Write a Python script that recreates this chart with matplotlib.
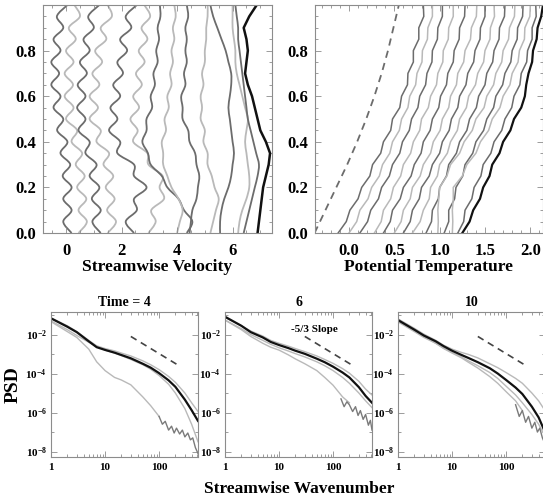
import numpy as np
import matplotlib
matplotlib.use("Agg")
import matplotlib.pyplot as plt
from matplotlib.path import Path
from matplotlib.patches import PathPatch
from matplotlib.ticker import MultipleLocator, FixedLocator, NullFormatter

plt.rcParams['font.family'] = ['Liberation Serif', 'DejaVu Serif']
plt.rcParams['font.weight'] = 'bold'
plt.rcParams['mathtext.fontset'] = 'custom'
plt.rcParams['mathtext.rm'] = 'Liberation Serif:bold'
plt.rcParams['mathtext.it'] = 'Liberation Serif:bold'
plt.rcParams['mathtext.bf'] = 'Liberation Serif:bold'
plt.rcParams['mathtext.default'] = 'rm'

# ---------------- Top-left: streamwise velocity profiles ----------------
height_levels = [0.00, 0.05, 0.10, 0.15, 0.20, 0.25, 0.30, 0.35, 0.40, 0.45, 0.50,
                 0.55, 0.60, 0.65, 0.70, 0.75, 0.80, 0.85, 0.90, 0.95, 1.00]
u_c0 = [0.20, -0.10, 0.20, -0.10, 0.20, -0.12, 0.15, -0.20, 0.05, -0.32, -0.10,
        -0.45, -0.20, -0.53, -0.25, -0.53, -0.20, -0.45, -0.10, -0.33, 0.05]
u_c1 = [0.45, 0.75, 0.45, 0.73, 0.40, 0.67, 0.35, 0.58, 0.20, 0.40, 0.00,
        0.27, -0.05, 0.25, -0.05, 0.27, 0.00, 0.35, 0.10, 0.50, 0.30]
u_c2 = [1.25, 0.95, 1.25, 0.93, 1.20, 0.85, 1.10, 0.70, 0.85, 0.45, 0.70,
        0.40, 0.70, 0.42, 0.75, 0.50, 0.85, 0.63, 1.00, 0.80, 1.20]
u_c3 = [1.50, 1.80, 1.48, 1.75, 1.43, 1.70, 1.35, 1.55, 1.10, 1.25, 0.85,
        1.15, 0.85, 1.20, 0.95, 1.30, 1.05, 1.45, 1.25, 1.65, 1.50]
u_c4 = [2.45, 2.15, 2.55, 2.45, 2.90, 2.45, 2.45, 1.85, 1.95, 1.55, 1.85,
        1.60, 1.95, 1.70, 2.05, 1.85, 2.20, 1.95, 2.35, 2.15, 2.55]
u_c5 = [2.97, 3.23, 3.07, 3.53, 3.37, 3.48, 2.97, 2.93, 2.42, 2.58, 2.32,
        2.63, 2.42, 2.73, 2.52, 2.83, 2.62, 2.93, 2.72, 3.03, 2.82]
u_c6 = [4.35, 4.55, 4.25, 4.05, 3.65, 3.45, 3.05, 2.95, 2.75, 2.90, 2.90,
        3.10, 3.05, 3.20, 3.15, 3.30, 3.25, 3.35, 3.30, 3.40, 3.38]
u_c7 = [4.00, 4.10, 4.20, 4.05, 3.80, 3.65, 3.50, 3.50, 3.45, 3.60, 3.55,
        3.70, 3.65, 3.80, 3.75, 3.85, 3.80, 3.90, 3.85, 3.95, 3.90]
u_c8 = [4.45, 4.50, 4.55, 4.70, 4.75, 4.80, 4.70, 4.65, 4.45, 4.40, 4.20,
        4.20, 4.15, 4.30, 4.25, 4.35, 4.30, 4.35, 4.30, 4.40, 4.35]
u_c9 = [5.20, 5.30, 5.40, 5.50, 5.35, 5.25, 5.10, 5.10, 4.95, 5.00, 4.85,
        4.90, 4.85, 4.95, 4.90, 5.00, 5.00, 5.05, 5.05, 5.10, 5.10]
u_c10 = [5.55, 5.55, 5.60, 5.70, 5.85, 5.95, 6.00, 6.05, 6.00, 5.95, 5.90,
         5.85, 5.90, 5.95, 5.95, 5.85, 5.75, 5.60, 5.45, 5.30, 5.20]
u_c11 = [6.20, 6.25, 6.35, 6.50, 6.60, 6.60, 6.55, 6.50, 6.45, 6.50, 6.55,
         6.45, 6.35, 6.25, 6.15, 6.10, 6.10, 6.05, 6.00, 6.00, 6.00]
u_c12 = [6.40, 6.50, 6.60, 6.70, 6.80, 6.90, 6.95, 6.85, 6.75, 6.65, 6.55,
         6.50, 6.45, 6.40, 6.35, 6.30, 6.25, 6.20, 6.20, 6.15, 6.10]
u_final = [6.90, 6.95, 7.00, 7.05, 7.10, 7.20, 7.30, 7.35, 7.20, 7.00, 6.90,
           6.80, 6.70, 6.55, 6.45, 6.50, 6.55, 6.50, 6.40, 6.60, 6.87]

# ---------------- Top-right: potential temperature profiles ----------------
theta_levels_coarse = [0.0, 0.1, 0.2, 0.3, 0.4, 0.5, 0.6, 0.7, 0.8, 0.9, 1.0]
theta_initial = [-0.38, -0.26, -0.14, -0.02, 0.09, 0.19, 0.28, 0.36, 0.43, 0.49, 0.55]
theta_levels = height_levels
th_c0 = [-0.12, -0.03, 0.01, 0.10, 0.14, 0.23, 0.26, 0.35, 0.38, 0.46, 0.48,
         0.56, 0.58, 0.645, 0.65, 0.71, 0.71, 0.77, 0.77, 0.825, 0.82]
th_c1 = [0.00, 0.085, 0.12, 0.21, 0.25, 0.335, 0.37, 0.45, 0.48, 0.555, 0.58,
         0.65, 0.67, 0.735, 0.75, 0.805, 0.81, 0.865, 0.87, 0.92, 0.92]
th_c2 = [0.12, 0.205, 0.24, 0.325, 0.36, 0.445, 0.48, 0.56, 0.59, 0.665, 0.69,
         0.76, 0.78, 0.845, 0.86, 0.915, 0.92, 0.975, 0.98, 1.03, 1.03]
th_c3 = [0.28, 0.355, 0.38, 0.46, 0.49, 0.57, 0.60, 0.68, 0.71, 0.78, 0.80,
         0.875, 0.90, 0.965, 0.98, 1.035, 1.04, 1.095, 1.10, 1.15, 1.15]
th_c4 = [0.38, 0.455, 0.48, 0.565, 0.60, 0.685, 0.72, 0.795, 0.82, 0.895, 0.92,
         0.99, 1.01, 1.075, 1.09, 1.15, 1.16, 1.215, 1.22, 1.275, 1.28]
th_c5 = [0.50, 0.575, 0.60, 0.675, 0.70, 0.785, 0.82, 0.90, 0.93, 1.005, 1.03,
         1.10, 1.12, 1.185, 1.20, 1.265, 1.28, 1.34, 1.35, 1.405, 1.41]
th_c6 = [0.60, 0.675, 0.70, 0.775, 0.80, 0.885, 0.92, 1.00, 1.03, 1.105, 1.13,
         1.20, 1.22, 1.29, 1.31, 1.375, 1.39, 1.445, 1.45, 1.50, 1.50]
th_c7 = [0.70, 0.785, 0.82, 0.885, 0.90, 0.975, 1.00, 1.085, 1.12, 1.195, 1.22,
         1.295, 1.32, 1.395, 1.42, 1.485, 1.50, 1.555, 1.56, 1.605, 1.60]
th_c8 = [0.85, 0.91, 0.92, 0.985, 1.00, 1.075, 1.10, 1.185, 1.22, 1.30, 1.33,
         1.405, 1.43, 1.50, 1.52, 1.585, 1.60, 1.655, 1.66, 1.715, 1.72]
th_c9 = [0.98, 0.985, 0.98, 0.99, 1.00, 1.08, 1.12, 1.22, 1.27, 1.36, 1.40,
         1.49, 1.52, 1.595, 1.62, 1.685, 1.70, 1.76, 1.77, 1.825, 1.83]
th_c10 = [1.05, 1.10, 1.10, 1.165, 1.18, 1.255, 1.28, 1.365, 1.40, 1.485, 1.52,
          1.595, 1.62, 1.695, 1.72, 1.785, 1.80, 1.855, 1.86, 1.915, 1.92]
th_c11 = [1.14, 1.145, 1.14, 1.15, 1.15, 1.25, 1.30, 1.40, 1.45, 1.54, 1.58,
          1.665, 1.70, 1.775, 1.80, 1.865, 1.88, 1.935, 1.94, 1.995, 2.00]
th_c12 = [1.20, 1.265, 1.28, 1.355, 1.38, 1.455, 1.48, 1.565, 1.60, 1.685, 1.72,
          1.795, 1.82, 1.885, 1.90, 1.96, 1.97, 2.02, 2.02, 2.065, 2.06]
th_final = [1.25, 1.33, 1.37, 1.445, 1.48, 1.55, 1.58, 1.66, 1.70, 1.78, 1.82,
            1.90, 1.94, 1.955, 1.98, 2.02, 2.03, 2.07, 2.08, 2.12, 2.14]

# ---------------- Bottom: spectra (log10 PSD) ----------------
wavenumber = [1, 2, 3, 5, 7, 10, 15, 20, 30, 50, 70, 100, 150, 200, 300, 400, 525]
t4_mean = [-1.17, -1.60, -1.88, -2.35, -2.65, -2.79, -2.93, -3.05, -3.22, -3.50, -3.70,
           -3.98, -4.35, -4.68, -5.34, -5.88, -6.43]
t4_a = [-1.15, -1.55, -1.85, -2.30, -2.58, -2.72, -2.84, -2.95, -3.10, -3.35, -3.55,
        -3.80, -4.15, -4.45, -5.00, -5.50, -5.95]
t4_b = [-1.30, -1.75, -2.05, -2.40, -2.60, -2.80, -2.95, -3.08, -3.28, -3.55, -3.78,
        -4.10, -4.55, -5.00, -5.80, -6.60, -7.50]
t4_c_k = [1, 2, 3, 5, 7, 10, 15, 20, 30, 50, 70, 100]
t4_c = [-1.34, -1.85, -2.15, -2.75, -3.40, -3.85, -4.20, -4.33, -4.58, -5.20, -5.65, -6.20]
t4_noise_k = [100, 115, 130, 150, 170, 190, 210, 240, 270, 300, 340, 380, 420, 470, 525]
t4_noise = [-6.20, -6.60, -6.45, -6.90, -6.70, -7.05, -6.80, -7.10, -6.90, -7.25, -7.05,
            -7.40, -7.30, -7.80, -8.10]

t6_mean = [-1.09, -1.55, -1.88, -2.15, -2.38, -2.54, -2.70, -2.83, -2.99, -3.24, -3.42,
           -3.65, -3.95, -4.20, -4.70, -5.15, -5.50]
t6_a = [-1.12, -1.55, -1.82, -2.08, -2.30, -2.45, -2.60, -2.72, -2.88, -3.10, -3.28,
        -3.48, -3.75, -3.98, -4.40, -4.80, -5.10]
t6_b = [-1.26, -1.70, -2.00, -2.30, -2.50, -2.68, -2.85, -2.98, -3.15, -3.40, -3.60,
        -3.85, -4.20, -4.50, -5.00, -5.40, -5.75]
t6_c_k = [1, 2, 3, 5, 7, 10, 15, 20, 30, 50, 70, 100, 150, 200]
t6_c = [-1.26, -1.75, -2.10, -2.45, -2.65, -2.80, -3.05, -3.25, -3.50, -3.85, -4.20,
        -4.60, -5.20, -5.50]
t6_noise_k = [140, 160, 180, 200, 230, 260, 290, 320, 360, 400, 450, 490, 525]
t6_noise = [-5.30, -5.70, -5.45, -5.60, -5.95, -5.70, -6.15, -5.90, -6.35, -6.10, -6.65,
            -6.40, -6.90]

t10_mean = [-1.26, -1.75, -2.05, -2.35, -2.60, -2.83, -3.05, -3.20, -3.42, -3.73, -4.00,
            -4.33, -4.72, -5.05, -5.70, -6.25, -7.00]
t10_a = [-1.20, -1.68, -1.98, -2.30, -2.55, -2.75, -2.92, -3.02, -3.20, -3.50, -3.70,
         -3.95, -4.25, -4.50, -5.00, -5.40, -5.90]
t10_b = [-1.35, -1.85, -2.15, -2.45, -2.70, -2.92, -3.15, -3.35, -3.60, -3.95, -4.25,
         -4.65, -5.10, -5.50, -6.10, -6.60, -7.20]
t10_c_k = [1, 2, 3, 5, 7, 10, 15, 20, 30, 50, 70, 100, 150, 200]
t10_c = [-1.30, -1.80, -2.10, -2.45, -2.72, -2.95, -3.20, -3.42, -3.72, -4.16, -4.50,
         -4.93, -5.40, -5.90]
t10_noise_k = [150, 175, 200, 230, 260, 300, 340, 380, 420, 470, 525]
t10_noise = [-5.60, -6.20, -5.90, -6.50, -6.20, -6.80, -6.50, -7.00, -6.80, -7.30, -7.60]

slope_k = [30, 210]
slope_log = [-2.10, -3.52]

panel_titles = ["Time = 4", "6", "10"]

# ---------------- Figure ----------------
DARK = '#6c6c6c'
LIGHT = '#b9b9b9'
FRAME = '#8c8c8c'

fig = plt.figure(figsize=(5.43, 5.01), dpi=100)
W, H = 543.0, 501.0


def ax_px(l, r, t, b):
    return fig.add_axes([l / W, (H - b) / H, (r - l) / W, (b - t) / H])


def style(ax, fs=10, xpad=3.5, ypad=3.5):
    for s in ax.spines.values():
        s.set_color(FRAME)
        s.set_linewidth(0.8)
    ax.tick_params(which='both', direction='in', top=True, right=True,
                   color=FRAME, labelsize=fs, width=0.6)
    ax.tick_params(axis='x', which='both', pad=xpad)
    ax.tick_params(axis='y', which='both', pad=ypad)
    ax.tick_params(which='major', length=4)
    ax.tick_params(which='minor', length=2)
    for lab in ax.get_xticklabels() + ax.get_yticklabels():
        lab.set_fontweight('bold')


def smooth_path(xs, ys):
    """Smooth drawing path through the read points (Catmull-Rom as Bezier)."""
    pts = np.column_stack([xs, ys]).astype(float)
    n = len(pts)
    verts = [pts[0]]
    codes = [Path.MOVETO]
    for i in range(n - 1):
        p0 = pts[max(i - 1, 0)]
        p1 = pts[i]
        p2 = pts[i + 1]
        p3 = pts[min(i + 2, n - 1)]
        verts += [p1 + (p2 - p0) / 6.0, p2 - (p3 - p1) / 6.0, p2]
        codes += [Path.CURVE4] * 3
    return Path(verts, codes)


# Top-left
ax1 = ax_px(43, 272, 5, 233)
u_curves = [u_c0, u_c1, u_c2, u_c3, u_c4, u_c5, u_c6, u_c7, u_c8, u_c9, u_c10, u_c11, u_c12]
for i, u in enumerate(u_curves):
    col = DARK if i % 2 == 0 else LIGHT
    ax1.add_patch(PathPatch(smooth_path(u, height_levels), fill=False,
                            edgecolor=col, lw=1.3))
ax1.plot(u_final, height_levels, color='#111111', lw=1.8)
ax1.set_xlim(-0.83, 7.42)
ax1.set_ylim(0, 1.0)
ax1.xaxis.set_major_locator(FixedLocator([0, 2, 4, 6]))
ax1.xaxis.set_minor_locator(MultipleLocator(0.5))
ax1.yaxis.set_major_locator(FixedLocator([0.0, 0.2, 0.4, 0.6, 0.8]))
ax1.yaxis.set_minor_locator(MultipleLocator(0.05))
ax1.set_yticklabels(['0.0', '0.2', '0.4', '0.6', '0.8'])
ax1.set_xticklabels(['0', '2', '4', '6'])
style(ax1, 12, xpad=7, ypad=5)
ax1.set_xlabel('Streamwise Velocity', fontsize=12.6, fontweight='bold', labelpad=0)

# Top-right
ax2 = ax_px(315, 543, 5, 233)
ax2.plot(theta_initial, theta_levels_coarse, color=DARK, lw=1.3, ls=(0, (4, 3)))
th_curves = [th_c0, th_c1, th_c2, th_c3, th_c4, th_c5, th_c6, th_c7, th_c8, th_c9,
             th_c10, th_c11, th_c12]
for i, th in enumerate(th_curves):
    col = DARK if i % 2 == 0 else LIGHT
    ax2.plot(th, theta_levels, color=col, lw=1.1)
ax2.plot(th_final, theta_levels, color='#111111', lw=1.6)
ax2.set_xlim(-0.375, 2.14)
ax2.set_ylim(0, 1.0)
ax2.xaxis.set_major_locator(FixedLocator([0.0, 0.5, 1.0, 1.5, 2.0]))
ax2.xaxis.set_minor_locator(MultipleLocator(0.1))
ax2.yaxis.set_major_locator(FixedLocator([0.0, 0.2, 0.4, 0.6, 0.8]))
ax2.yaxis.set_minor_locator(MultipleLocator(0.05))
ax2.set_yticklabels(['0.0', '0.2', '0.4', '0.6', '0.8'])
ax2.set_xticklabels(['0.0', '0.5', '1.0', '1.5', '2.0'])
style(ax2, 12, xpad=7, ypad=5)
ax2.set_xlabel('Potential Temperature', fontsize=12.6, fontweight='bold', labelpad=0)

# Bottom spectra
panels = [
    (51, 198, t4_mean, t4_a, t4_b, t4_c_k, t4_c, t4_noise_k, t4_noise),
    (225, 372, t6_mean, t6_a, t6_b, t6_c_k, t6_c, t6_noise_k, t6_noise),
    (398, 545, t10_mean, t10_a, t10_b, t10_c_k, t10_c, t10_noise_k, t10_noise),
]
for j, (l, r, mean, la, lb, ck, lc, nk, nz) in enumerate(panels):
    ax = ax_px(l, r, 312, 457)
    p = lambda v: 10.0 ** np.asarray(v)
    ax.plot(wavenumber, p(la), color=LIGHT, lw=1.0)
    ax.plot(wavenumber, p(lb), color=LIGHT, lw=1.0)
    ax.plot(ck, p(lc), color=LIGHT, lw=1.0)
    ax.plot(nk, p(nz), color='#7a7a7a', lw=1.0)
    ax.plot(wavenumber, p(mean), color='#111111', lw=1.6)
    ax.plot(slope_k, p(slope_log), color='#444444', lw=1.2, ls=(0, (4, 3)))
    ax.set_xscale('log')
    ax.set_yscale('log')
    ax.set_xlim(1, 525)
    ax.set_ylim(10 ** -8.28, 10 ** -0.846)
    ax.xaxis.set_major_locator(FixedLocator([1, 10, 100]))
    ax.set_xticklabels(['1', '10', '100'])
    ax.yaxis.set_major_locator(FixedLocator([1e-8, 1e-6, 1e-4, 1e-2]))
    ax.set_yticklabels(['10$^{-8}$', '10$^{-6}$', '10$^{-4}$', '10$^{-2}$'])
    ax.yaxis.set_minor_locator(FixedLocator([1e-7, 1e-5, 1e-3, 1e-1]))
    ax.yaxis.set_minor_formatter(NullFormatter())
    style(ax, 8, xpad=4, ypad=3)
    ax.set_title(panel_titles[j], fontsize=10, fontweight='bold', pad=4)
    if j == 0:
        ax.set_ylabel('PSD', fontsize=14, fontweight='bold', labelpad=3)
    if j == 1:
        ax.text(46, 10 ** -1.72, '-5/3 Slope', fontsize=8, fontweight='bold',
                ha='center', va='center')

fig.text(299 / W, 1 - 489 / H, 'Streamwise Wavenumber', fontsize=12.5,
         fontweight='bold', ha='center', va='center')

fig.savefig('out.png', dpi=100)
